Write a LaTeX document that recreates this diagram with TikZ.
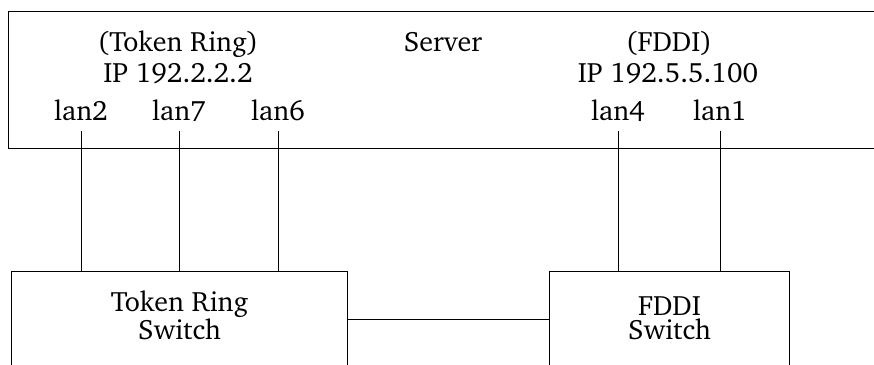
\documentclass[tikz,border=0pt]{standalone}
\usepackage[T1]{fontenc}
\usepackage{charter}
\begin{document}
\begin{tikzpicture}[x=1pt,y=-1pt,
  line width=1pt,
  box/.style={draw, rectangle, inner sep=0pt, anchor=north west},
  lbl/.style={inner sep=0pt, anchor=base, font=\fontsize{28}{24.5}\selectfont},
  port/.style={lbl, inner ysep=10pt, text depth=0pt},
  boxtext/.style={align=center, inner sep=0pt, font=\fontsize{28}{24.5}\selectfont}
]
\useasboundingbox (0,0) rectangle (874,364);

% server chassis, running off the right edge
\node[box, minimum width=880pt, minimum height=137pt] (server) at (8,11) {};

% switches, running off the bottom edge
\node[box, minimum width=336pt, minimum height=96pt] (trs) at (11,271) {};
\node[box, minimum width=240pt, minimum height=96pt] (fds) at (549,271) {};

% switch names (base = baseline of the last line)
\node[boxtext, anchor=base] (trsname) at ([yshift=-20pt]trs.center) {Token Ring\\Switch};
\node[boxtext, anchor=base] (fdsname) at ([yshift=-20pt]fds.center) {FDDI\\Switch};

% server labels
\node[lbl] (trname) at (178,51) {(Token Ring)};
\node[lbl] (trip)   at (178,82) {IP 192.2.2.2};
\node[lbl] (srv)    at (443,51) {Server};
\node[lbl] (fdname) at (669,51) {(FDDI)};
\node[lbl] (fdip)   at (668,82) {IP 192.5.5.100};

% interfaces
\node[port] (lan2) at (81,120)  {lan2};
\node[port] (lan7) at (179,120) {lan7};
\node[port] (lan6) at (278,120) {lan6};
\node[port] (lan4) at (618,120) {lan4};
\node[port] (lan1) at (720,120) {lan1};

% links
\foreach \p in {lan2,lan7,lan6}
  \draw (\p.south) -- (\p.south |- trs.north);
\foreach \p in {lan4,lan1}
  \draw (\p.south) -- (\p.south |- fds.north);
\draw (trs.east) -- (fds.west);
\end{tikzpicture}
\end{document}
